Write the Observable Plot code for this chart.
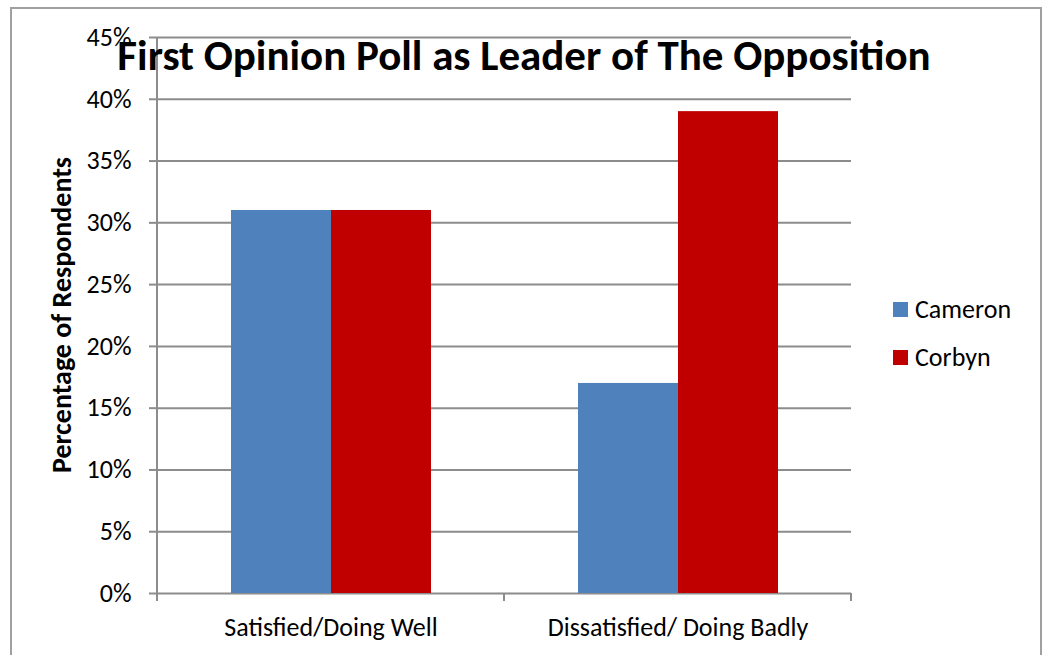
<!DOCTYPE html>
<html>
<head>
<meta charset="utf-8">
<script src="https://cdn.jsdelivr.net/npm/d3@7"></script>
<script src="https://cdn.jsdelivr.net/npm/@observablehq/plot@0.6"></script>
<style>
  html, body { margin: 0; padding: 0; background: #fff; }
  #wrap { position: relative; width: 1048px; height: 655px; overflow: hidden; font-family: Carlito, Calibri, Lato, "Open Sans", sans-serif; }
  #border { position: absolute; left: 10px; top: 7px; width: 1032px; height: 660px; border: 2px solid #a0a0a0; box-sizing: border-box; }
  #chart { position: absolute; left: 0; top: 0; }
  #chart svg text { font-size: 26px; }
  #title { position: absolute; left: 0; width: 1048px; top: 34px; line-height: 1; text-align: center; font-weight: bold; font-size: 43px; color: #000; white-space: nowrap; }
  #ylabel { position: absolute; left: 62px; top: 315px; line-height: 1; transform: translate(-50%, -50%) rotate(-90deg); font-weight: bold; font-size: 28px; white-space: nowrap; color: #000; }
  #legend { position: absolute; left: 893px; top: 293px; font-size: 26px; color: #000; }
  .item { display: flex; align-items: center; height: 32px; margin-bottom: 16px; }
  .sw { width: 15px; height: 15px; margin-right: 7px; }
</style>
</head>
<body>
<div id="wrap">
  <div id="border"></div>
  <div id="chart"></div>
  <div id="title"></div>
  <div id="ylabel"></div>
  <div id="legend"></div>
</div>
<script>
const title = "First Opinion Poll as Leader of The Opposition";
const yLabel = "Percentage of Respondents";
const categories = ["Satisfied/Doing Well", "Dissatisfied/ Doing Badly"];
const seriesNames = ["Cameron", "Corbyn"];
const cameronValues = [31, 17];
const corbynValues = [31, 39];
const seriesColors = ["#4f81bd", "#c00000"];
const yTicks = [0, 5, 10, 15, 20, 25, 30, 35, 40, 45];

const data = [];
categories.forEach((c, i) => {
  data.push({category: c, series: seriesNames[0], value: cameronValues[i]});
  data.push({category: c, series: seriesNames[1], value: corbynValues[i]});
});

const W = 1048, H = 655;
const plot = Plot.plot({
  width: W,
  height: H,
  marginLeft: 157,
  marginRight: 197,
  marginTop: 37,
  marginBottom: 62,
  style: {fontFamily: 'Carlito, Calibri, Lato, "Open Sans", sans-serif', fontSize: "26px", color: "#000", background: "transparent"},
  fx: {domain: categories, paddingInner: 0, paddingOuter: 0, label: null},
  x: {domain: seriesNames, paddingInner: 0, paddingOuter: 0.735, axis: null},
  y: {domain: [0, 45], label: null},
  color: {domain: seriesNames, range: seriesColors},
  marks: [
    Plot.gridY({ticks: yTicks, stroke: "#8c8c8c", strokeOpacity: 1, strokeWidth: 2}),
    Plot.barY(data, {fx: "category", x: "series", y: "value", fill: "series", inset: 0}),
    Plot.axisY({ticks: yTicks, tickFormat: d => d + "%", tickSize: 8, tickPadding: 18, stroke: "#8c8c8c", strokeWidth: 2, label: null}),
    Plot.axisFx({anchor: "bottom", tickSize: 0, tickPadding: 24, label: null})
  ]
});
document.getElementById("chart").appendChild(plot);

// Axis line and category boundary ticks from the library's scales
const fx = plot.scale("fx");
const y = plot.scale("y");
const svg = d3.select(plot);
const y0 = y.apply(0), yTop = y.apply(45);
const left = fx.apply(categories[0]);
svg.append("line").attr("x1", left).attr("x2", left).attr("y1", yTop).attr("y2", y0)
  .attr("stroke", "#8c8c8c").attr("stroke-width", 2);
const bounds = [left, ...categories.map(c => fx.apply(c) + fx.bandwidth)];
bounds.forEach(bx => {
  svg.append("line").attr("x1", bx).attr("x2", bx).attr("y1", y0).attr("y2", y0 + 8)
    .attr("stroke", "#8c8c8c").attr("stroke-width", 2);
});

document.getElementById("title").textContent = title;
document.getElementById("ylabel").textContent = yLabel;
const legend = document.getElementById("legend");
seriesNames.forEach((s, i) => {
  const it = document.createElement("div");
  it.className = "item";
  const sw = document.createElement("div");
  sw.className = "sw";
  sw.style.background = seriesColors[i];
  const t = document.createElement("span");
  t.textContent = s;
  it.appendChild(sw); it.appendChild(t);
  legend.appendChild(it);
});
</script>
</body>
</html>
